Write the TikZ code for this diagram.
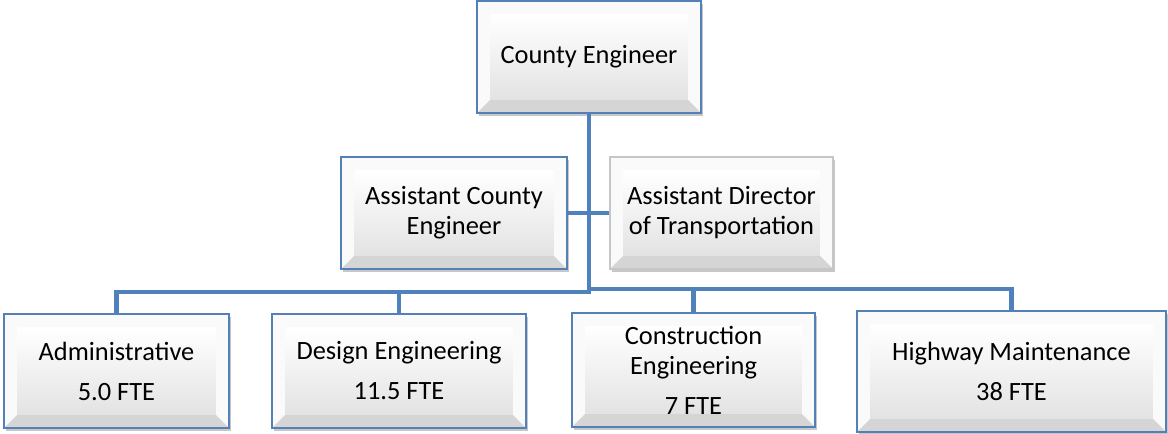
\documentclass[tikz,border=0pt]{standalone}
\usepackage{fontspec}
\setmainfont{Carlito}
\usetikzlibrary{calc,shadows}
\definecolor{conn}{RGB}{79,129,189}
\definecolor{bord}{RGB}{84,128,185}
\tikzset{
  bev/.style={
    rectangle, draw=bord, line width=1.3pt, inner sep=0pt, align=center,
    font=\fontsize{19.8}{22.5}\selectfont,
    fill=gray!12,
    drop shadow={shadow xshift=1.5pt, shadow yshift=-2pt, opacity=0.22, fill=black},
    path picture={
      \path (path picture bounding box.south west) coordinate (bsw)
            (path picture bounding box.north east) coordinate (bne);
      \path let \p1=(bsw), \p2=(bne) in
        [fill=white] (\x1,\y2) -- (\x2,\y2) -- (\x2-10pt,\y2-10pt) -- (\x1+10pt,\y2-10pt) -- cycle
        [fill=gray!14] (\x1,\y2) -- (\x1+10pt,\y2-10pt) -- (\x1+10pt,\y1+10pt) -- (\x1,\y1) -- cycle
        [fill=gray!4] (\x2,\y2) -- (\x2,\y1) -- (\x2-10pt,\y1+10pt) -- (\x2-10pt,\y2-10pt) -- cycle;
      \path let \p1=(bsw), \p2=(bne) in
        [fill=gray!33] (\x1,\y1) -- (\x2,\y1) -- (\x2-10pt,\y1+10pt) -- (\x1+10pt,\y1+10pt) -- cycle;
      \shade[top color=white, bottom color=gray!22] let \p1=(bsw), \p2=(bne) in
        (\x1+10pt,\y1+10pt) rectangle (\x2-10pt,\y2-10pt);
    }
  },
  graybev/.style={bev, draw=gray!45, line width=0.8pt},
  link/.style={draw=conn, line width=3.6pt}
}
\begin{document}
\begin{tikzpicture}[x=0.75pt,y=-0.75pt]
\useasboundingbox (0,0) rectangle (1168,433);

% coordinates for the buses
\coordinate (jl) at (589,292);
\coordinate (jr) at (589,289);

% boxes
\node[bev, minimum width=168pt, minimum height=84pt] (ce) at (589,57) {County Engineer};
\node[bev, minimum width=169.5pt, minimum height=84pt] (ace) at (454,213) {Assistant County\\Engineer};
\node[graybev, minimum width=167.25pt, minimum height=84pt] (adt) at (721.5,213) {Assistant Director\\of Transportation};

\node[bev, minimum width=168.75pt, minimum height=85.5pt] (adm) at (116.5,371) {Administrative\\[7.5pt]5.0 FTE};
\node[bev, minimum width=190.5pt, minimum height=85.5pt] (des) at (399,371) {Design Engineering\\[7.5pt]11.5 FTE};
\node[bev, minimum width=182.25pt, minimum height=85.5pt] (con) at (693.5,370) {Construction\\Engineering\\[7.5pt]7 FTE};
\node[bev, minimum width=231.75pt, minimum height=90.75pt] (hwy) at (1011.5,371.5) {Highway Maintenance\\[7.5pt]38 FTE};

% connectors
\draw[link] (ce.south) -- (jl) -| (adm.north);
\draw[link] (jl) -| (des.north);
\draw[link] (jr) -| (con.north);
\draw[link] (jr) -| (hwy.north);
\draw[link] (ace.east) -- (adt.west);
\end{tikzpicture}
\end{document}
